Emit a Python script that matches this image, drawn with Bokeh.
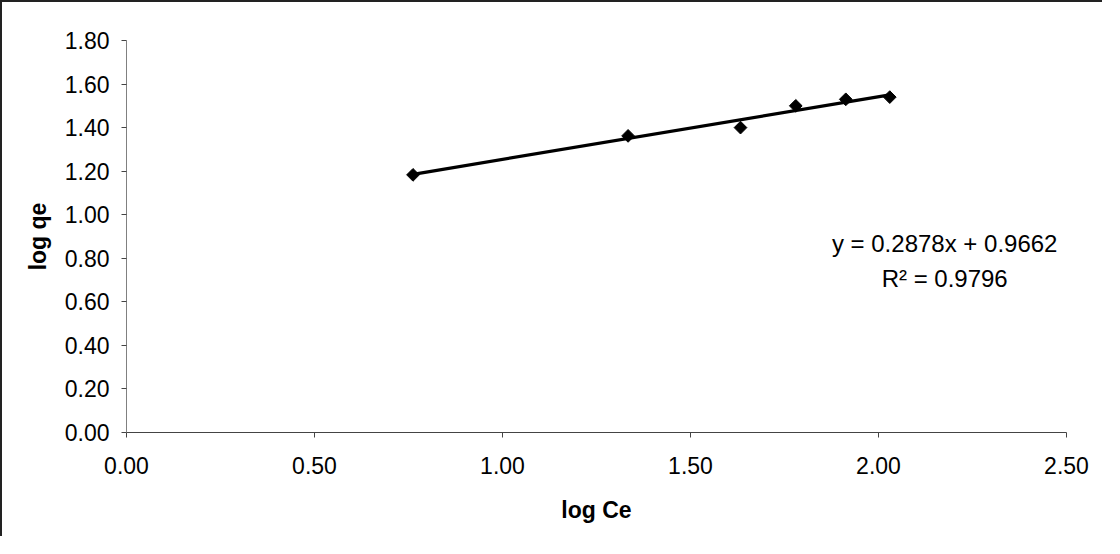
import math
from bokeh.plotting import figure
from bokeh.models import FixedTicker, NumeralTickFormatter, Range1d, Label, ColumnDataSource
from bokeh.embed import file_html
from bokeh.resources import INLINE

# data
log_ce = [0.762, 1.334, 1.633, 1.780, 1.913, 2.030]
log_qe = [1.183, 1.362, 1.400, 1.500, 1.530, 1.540]
slope = 0.2878
intercept = 0.9662
r2 = 0.9796
x_ticks = [0.0, 0.5, 1.0, 1.5, 2.0, 2.5]
y_ticks = [0.0, 0.2, 0.4, 0.6, 0.8, 1.0, 1.2, 1.4, 1.6, 1.8]

FONT = "Liberation Sans"

p = figure(width=1102, height=536, output_backend="svg", toolbar_location=None,
           x_range=Range1d(0, 2.5), y_range=Range1d(0, 1.8))
p.min_border_left = 124
p.min_border_right = 38
p.min_border_top = 38
p.min_border_bottom = 106
p.outline_line_color = None
p.xgrid.grid_line_color = None
p.ygrid.grid_line_color = None
p.background_fill_color = "white"
p.border_fill_color = "white"
p.styles = {"border-left": "2px solid #222222", "border-top": "2px solid #222222"}

# trend line
tx = [min(log_ce), max(log_ce)]
ty = [slope * v + intercept for v in tx]
p.line(tx, ty, line_color="black", line_width=3.2)

src = ColumnDataSource(dict(x=log_ce, y=log_qe))
p.scatter("x", "y", source=src, marker="square", angle=math.pi / 4, size=9,
          fill_color="black", line_color="black")

for ax in (p.xaxis[0], p.yaxis[0]):
    ax.major_label_text_font = FONT
    ax.major_label_text_font_size = "23px"
    ax.major_label_text_color = "black"
    ax.axis_label_text_font = FONT
    ax.axis_label_text_font_size = "23px"
    ax.axis_label_text_font_style = "bold"
    ax.axis_label_text_color = "black"
    ax.minor_tick_line_color = None
    ax.major_tick_in = 0
    ax.major_tick_out = 5
    ax.formatter = NumeralTickFormatter(format="0.00")

p.xaxis.ticker = FixedTicker(ticks=x_ticks)
p.yaxis.ticker = FixedTicker(ticks=y_ticks)
p.xaxis.axis_label = "log Ce"
p.yaxis.axis_label = "log qe"
p.xaxis.axis_line_color = "#444444"
p.xaxis.major_tick_line_color = "#444444"
p.yaxis.axis_line_color = "#808080"
p.yaxis.major_tick_line_color = "#444444"
p.xaxis.major_label_standoff = 19
p.yaxis.major_label_standoff = 12
p.xaxis.axis_label_standoff = 20
p.yaxis.axis_label_standoff = 11

eq = Label(x=2.176, y=0.87, text=f"y = {slope:.4f}x + {intercept:.4f}",
           text_font=FONT, text_font_size="24px", text_align="center",
           text_baseline="alphabetic", text_color="black")
rl = Label(x=2.176, y=0.708, text=f"R² = {r2:.4f}",
           text_font=FONT, text_font_size="24px", text_align="center",
           text_baseline="alphabetic", text_color="black")
p.add_layout(eq)
p.add_layout(rl)

open("out.html", "w").write(file_html(p, INLINE))
